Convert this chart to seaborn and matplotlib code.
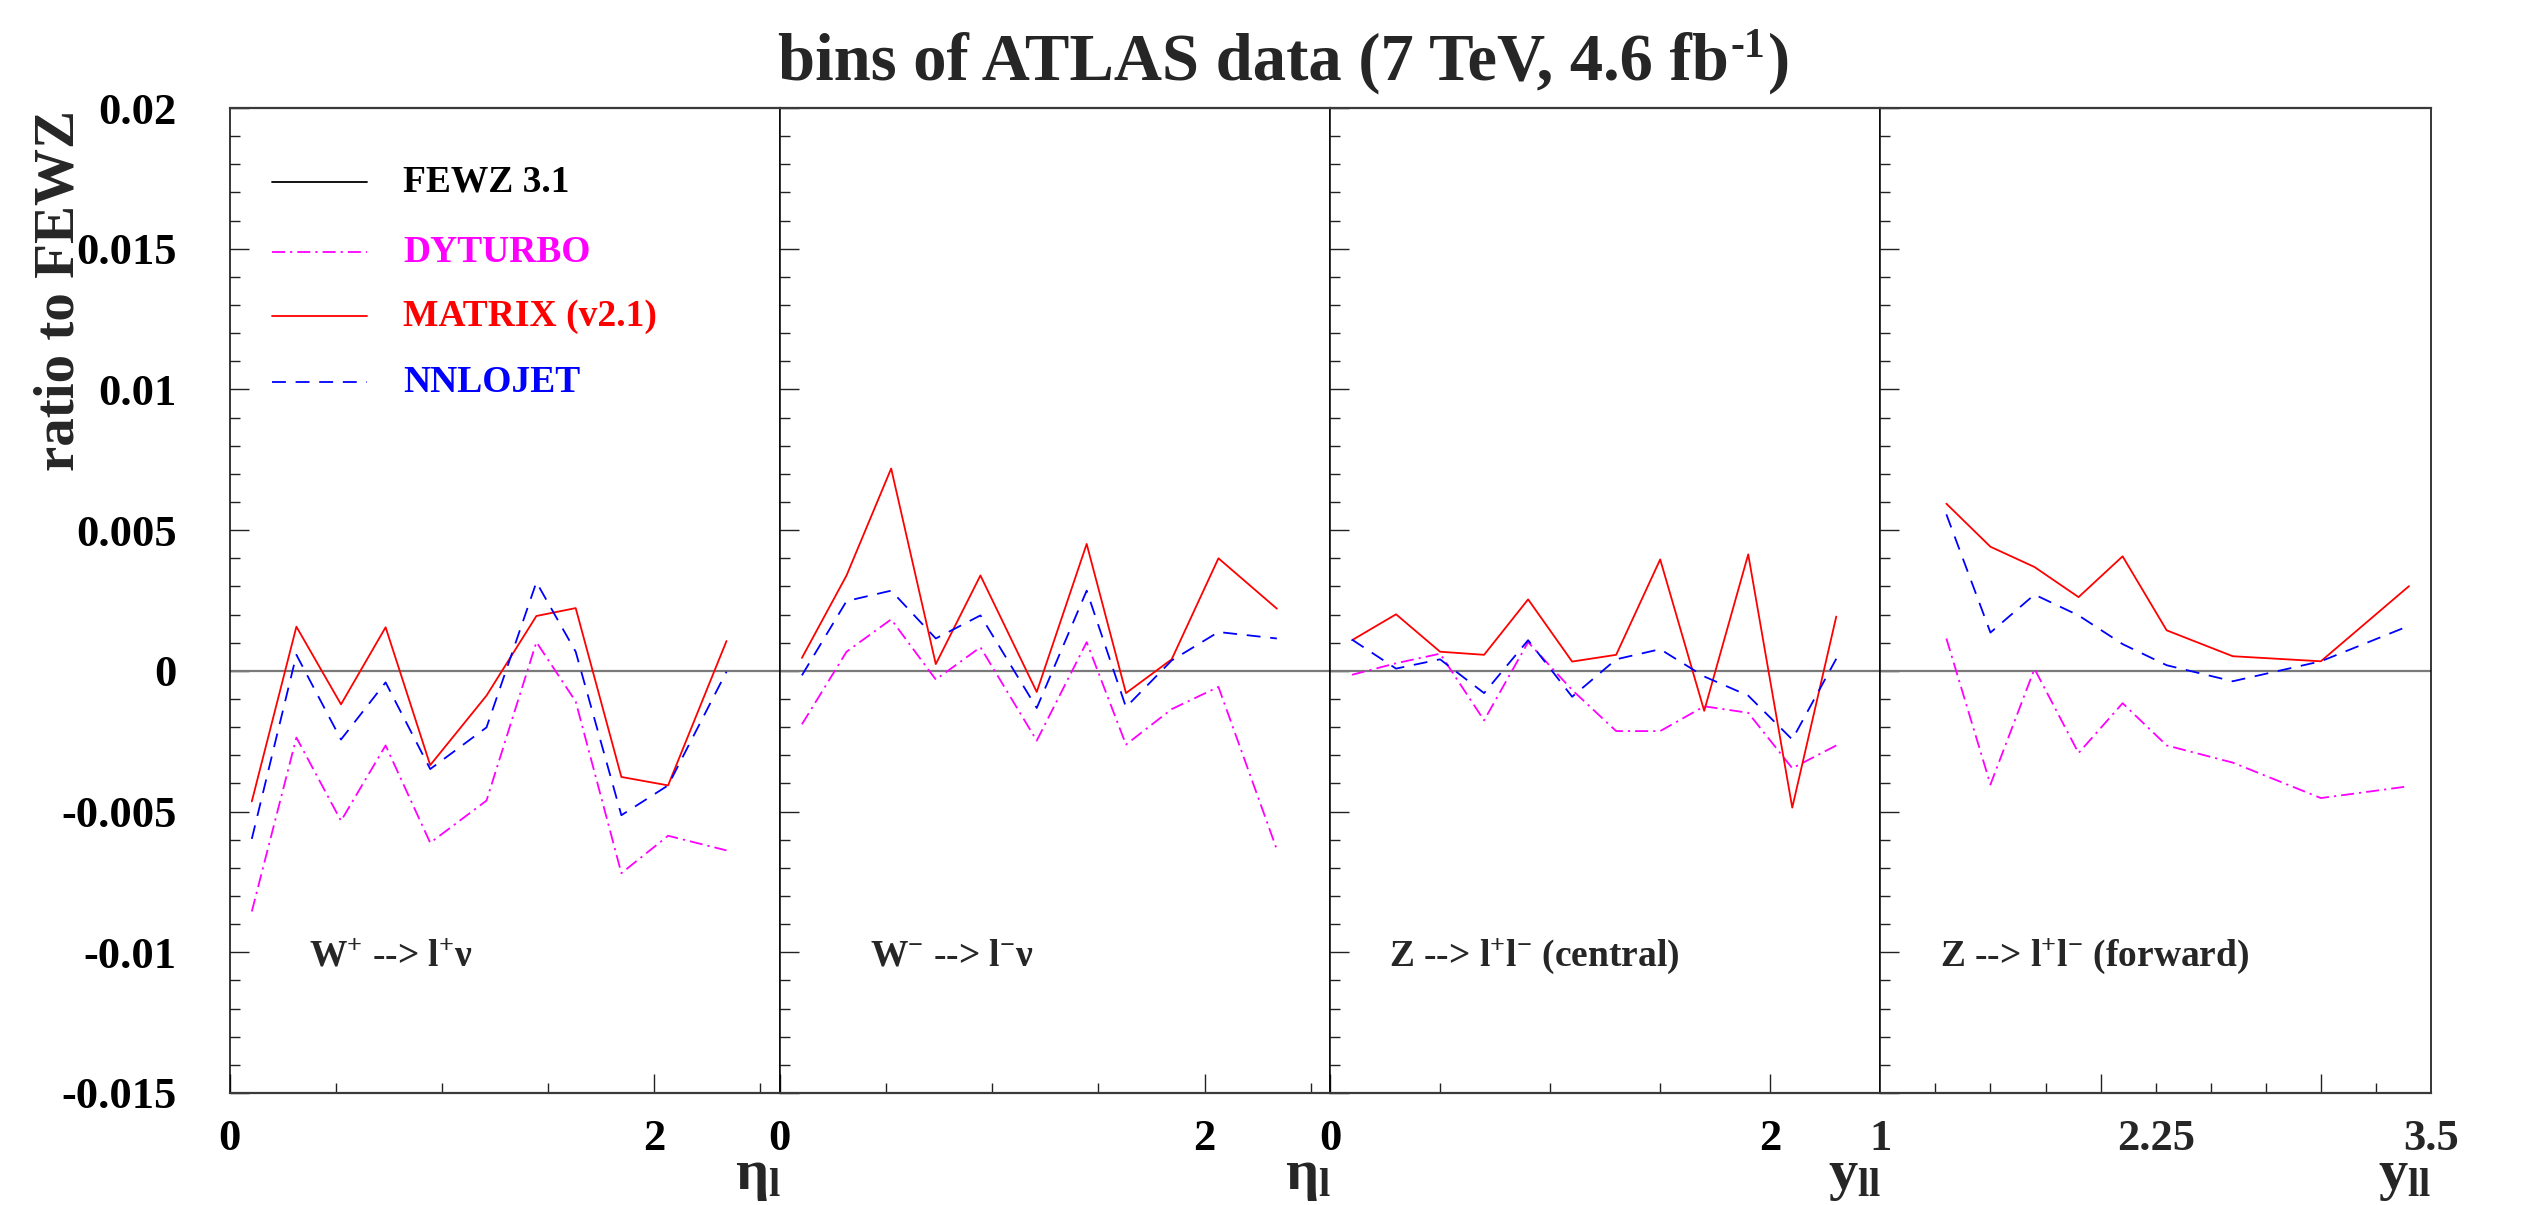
import numpy as np
import pandas as pd
import matplotlib
matplotlib.use("Agg")
import matplotlib.pyplot as plt
from matplotlib.lines import Line2D
from matplotlib.ticker import FixedLocator, FixedFormatter, NullFormatter
import seaborn as sns

# ---------------- data: ratio to FEWZ 3.1 in bins of ATLAS data ----------------
# bin centres
w_eta = [0.105, 0.315, 0.525, 0.735, 0.945, 1.21, 1.445, 1.63, 1.845, 2.065, 2.34]
zc_y = [0.1, 0.3, 0.5, 0.7, 0.9, 1.1, 1.3, 1.5, 1.7, 1.9, 2.1, 2.3]
zf_y = [1.3, 1.5, 1.7, 1.9, 2.1, 2.3, 2.6, 3.0, 3.4]

# W+ -> l+ nu
wp_dyturbo = [-0.00855, -0.00237, -0.00533, -0.00265, -0.00611, -0.00461, 0.00102, -0.00109, -0.00719, -0.00586, -0.00638]
wp_matrix = [-0.00464, 0.00157, -0.00119, 0.00155, -0.00335, -0.00088, 0.00195, 0.00223, -0.00377, -0.00407, 0.00106]
wp_nnlojet = [-0.00597, 0.00057, -0.00244, -0.00041, -0.00349, -0.00201, 0.00315, 0.00068, -0.00513, -0.00407, -0.00003]

# W- -> l- nu
wm_dyturbo = [-0.00190, 0.00068, 0.00183, -0.00031, 0.00084, -0.00248, 0.00102, -0.00262, -0.00136, -0.00057, -0.00635]
wm_matrix = [0.00046, 0.00339, 0.00719, 0.00024, 0.00339, -0.00075, 0.00451, -0.00079, 0.00041, 0.00400, 0.00221]
wm_nnlojet = [-0.00016, 0.00248, 0.00285, 0.00115, 0.00197, -0.00132, 0.00285, -0.00129, 0.00037, 0.00138, 0.00115]

# Z -> l+ l- (central)
zc_dyturbo = [-0.00014, 0.00027, 0.00061, -0.00176, 0.00102, -0.00068, -0.00214, -0.00214, -0.00126, -0.00149, -0.00346, -0.00265]
zc_matrix = [0.00109, 0.00201, 0.00068, 0.00057, 0.00254, 0.00033, 0.00057, 0.00396, -0.00142, 0.00414, -0.00486, 0.00193]
zc_nnlojet = [0.00111, 0.00008, 0.00041, -0.00079, 0.00109, -0.00092, 0.00041, 0.00077, -0.00020, -0.00088, -0.00244, 0.00043]

# Z -> l+ l- (forward)
zf_dyturbo = [0.00115, -0.00404, 0.00007, -0.00292, -0.00115, -0.00265, -0.00326, -0.00452, -0.00410]
zf_matrix = [0.00594, 0.00441, 0.00369, 0.00262, 0.00407, 0.00144, 0.00052, 0.00034, 0.00301]
zf_nnlojet = [0.00556, 0.00136, 0.00271, 0.00197, 0.00095, 0.00020, -0.00037, 0.00034, 0.00160]

generators = ["FEWZ 3.1", "DYTURBO", "MATRIX (v2.1)", "NNLOJET"]
panel_titles = [r"W$^{+}$ --> l$^{+}$$\nu$", r"W$^{-}$ --> l$^{-}$$\nu$",
                r"Z --> l$^{+}$l$^{-}$ (central)", r"Z --> l$^{+}$l$^{-}$ (forward)"]
axis_titles = [r"$\eta_{l}$", r"$\eta_{l}$", r"$\mathrm{y}_{\mathrm{ll}}$", r"$\mathrm{y}_{\mathrm{ll}}$"]
y_ticks = [-0.015, -0.01, -0.005, 0.0, 0.005, 0.01, 0.015, 0.02]
y_tick_labels = ["-0.015", "-0.01", "-0.005", "0", "0.005", "0.01", "0.015", "0.02"]
fwd_labels = ["1", "2.25", "3.5"]
fwd_label_pos = [1.0, 2.25, 3.5]
title_parts = ["bins of ATLAS data (7 TeV, 4.6 fb", "-1", ")"]

# ---------------- style ----------------
sns.set_style("ticks")
plt.rcParams["font.family"] = ["Liberation Serif", "DejaVu Serif"]
plt.rcParams["font.weight"] = "bold"
plt.rcParams["mathtext.fontset"] = "custom"
plt.rcParams["mathtext.rm"] = "Liberation Serif:bold"
plt.rcParams["mathtext.it"] = "Liberation Serif:bold"
plt.rcParams["mathtext.bf"] = "Liberation Serif:bold"
plt.rcParams["lines.scale_dashes"] = False

colors = {"FEWZ 3.1": "#000000", "DYTURBO": "#ff00ff",
          "MATRIX (v2.1)": "#ff0000", "NNLOJET": "#0000ff"}
dash_map = {"FEWZ 3.1": "", "DYTURBO": (9.4, 3.6, 1.6, 3.6),
            "MATRIX (v2.1)": "", "NNLOJET": (10.0, 7.0)}
LW = 1.3

W, H, DPI = 2521, 1205, 100
fig = plt.figure(figsize=(W / DPI, H / DPI), dpi=DPI)
fig.patch.set_facecolor("white")


def fx(px):
    return px / W


def fy(py):
    return 1.0 - py / H


edges = [229.5, 779.6, 1330.0, 1880.3, 2431.0]
top_px, bot_px = 108.0, 1093.0

panels = [
    dict(x=w_eta, vals=(wp_dyturbo, wp_matrix, wp_nnlojet), xlim=(0, 2.59),
         major=[0, 2], minor=[0.5, 1.0, 1.5, 2.5], labels=["0", "2"], tx=79.5),
    dict(x=w_eta, vals=(wm_dyturbo, wm_matrix, wm_nnlojet), xlim=(0, 2.59),
         major=[0, 2], minor=[0.5, 1.0, 1.5, 2.5], labels=["0", "2"], tx=90.0),
    dict(x=zc_y, vals=(zc_dyturbo, zc_matrix, zc_nnlojet), xlim=(0, 2.5),
         major=[0, 2], minor=[0.5, 1.0, 1.5], labels=["0", "2"], tx=59.0),
    dict(x=zf_y, vals=(zf_dyturbo, zf_matrix, zf_nnlojet), xlim=(1, 3.5),
         major=[2, 3], minor=[1.25, 1.5, 1.75, 2.25, 2.5, 2.75, 3.25], labels=None, tx=60.0),
]

for i, p in enumerate(panels):
    ax = fig.add_axes([fx(edges[i]), fy(bot_px), fx(edges[i + 1] - edges[i]),
                       (bot_px - top_px) / H])
    ax.set_facecolor("white")

    rows = []
    for gen, v in zip(generators[1:], p["vals"]):
        for xv, yv in zip(p["x"], v):
            rows.append({"x": xv, "ratio": yv, "gen": gen})
    df = pd.DataFrame(rows)

    # FEWZ reference (ratio to itself) as the zero line
    ax.axhline(0.0, color="#7a7a7a", lw=1.6, zorder=1)
    sns.lineplot(data=df, x="x", y="ratio", hue="gen", style="gen",
                 palette=colors, dashes=dash_map, estimator=None, errorbar=None,
                 sort=False, lw=LW, legend=False, ax=ax, zorder=3)

    ax.set_xlim(*p["xlim"])
    ax.set_ylim(-0.015, 0.02)
    ax.set_xlabel("")
    ax.set_ylabel("")

    ax.yaxis.set_major_locator(FixedLocator(y_ticks))
    ax.yaxis.set_minor_locator(FixedLocator(list(np.round(np.arange(-0.015, 0.0201, 0.001), 4))))
    if i == 0:
        ax.yaxis.set_major_formatter(FixedFormatter(y_tick_labels))
    else:
        ax.yaxis.set_major_formatter(NullFormatter())

    ax.xaxis.set_major_locator(FixedLocator(p["major"]))
    ax.xaxis.set_minor_locator(FixedLocator(p["minor"]))
    if p["labels"] is not None:
        ax.xaxis.set_major_formatter(FixedFormatter(p["labels"]))
    else:
        ax.xaxis.set_major_formatter(NullFormatter())

    ax.tick_params(axis="both", which="both", direction="in", colors="#222222",
                   labelcolor="black", left=True, right=False, top=False, bottom=True)
    ax.tick_params(axis="both", which="major", length=13.7, width=1.0, labelsize=32)
    ax.tick_params(axis="both", which="minor", length=6.9, width=1.0)
    ax.tick_params(axis="y", which="major", pad=38)
    ax.tick_params(axis="x", which="major", pad=19)

    for side in ("left", "right"):
        ax.spines[side].set_color("black")
        ax.spines[side].set_linewidth(1.1)
    for side in ("top", "bottom"):
        ax.spines[side].set_color("#3a3a3a")
        ax.spines[side].set_linewidth(1.6)

    # axis labels of the forward-rapidity panel sit at the start, middle and end
    if p["labels"] is None:
        for pos, lab in zip(fwd_label_pos, fwd_labels):
            ax.text(pos, -(19 * DPI / 72) / (bot_px - top_px), lab,
                    transform=ax.get_xaxis_transform(), ha="center",
                    va="top", fontsize=32, fontweight="bold")

    # process label
    fig.text(fx(edges[i] + p["tx"]), fy(966), panel_titles[i], ha="left",
             va="baseline", fontsize=27, fontweight="bold")
    # axis title at the right end of each panel
    fig.text(fx(edges[i + 1] + 1), fy(1189), axis_titles[i], ha="right",
             va="baseline", fontsize=42)

# title: main text, raised "-1" and closing bracket, centred as one line
renderer = fig.canvas.get_renderer()
sizes = [48, 30, 48]
raise_px = [0, 23, 0]
pieces = [fig.text(0, fy(80), s, fontsize=fs, fontweight="bold", ha="left",
                   va="baseline") for s, fs in zip(title_parts, sizes)]
widths = [t.get_window_extent(renderer).width for t in pieces]
x_cur = 1284 - (sum(widths) + 4) / 2
for t, w, dy in zip(pieces, widths, raise_px):
    t.set_position((fx(x_cur), fy(80) + dy / H))
    x_cur += w + 2

fig.text(fx(60), fy(110), "ratio to FEWZ", rotation=90, ha="center", va="top",
         fontsize=41, fontweight="bold")

# legend inside the first panel
leg_rows = [182, 252, 316, 382]
for gen, yrow in zip(generators, leg_rows):
    ls = "-" if dash_map[gen] == "" else (0, dash_map[gen])
    fig.add_artist(Line2D([fx(272), fx(367)], [fy(yrow), fy(yrow)],
                          transform=fig.transFigure, color=colors[gen],
                          lw=LW, linestyle=ls))
    fig.text(fx(403), fy(yrow), gen, color=colors[gen], ha="left", va="center",
             fontsize=27, fontweight="bold")

fig.savefig("out.png", dpi=DPI, facecolor="white")
